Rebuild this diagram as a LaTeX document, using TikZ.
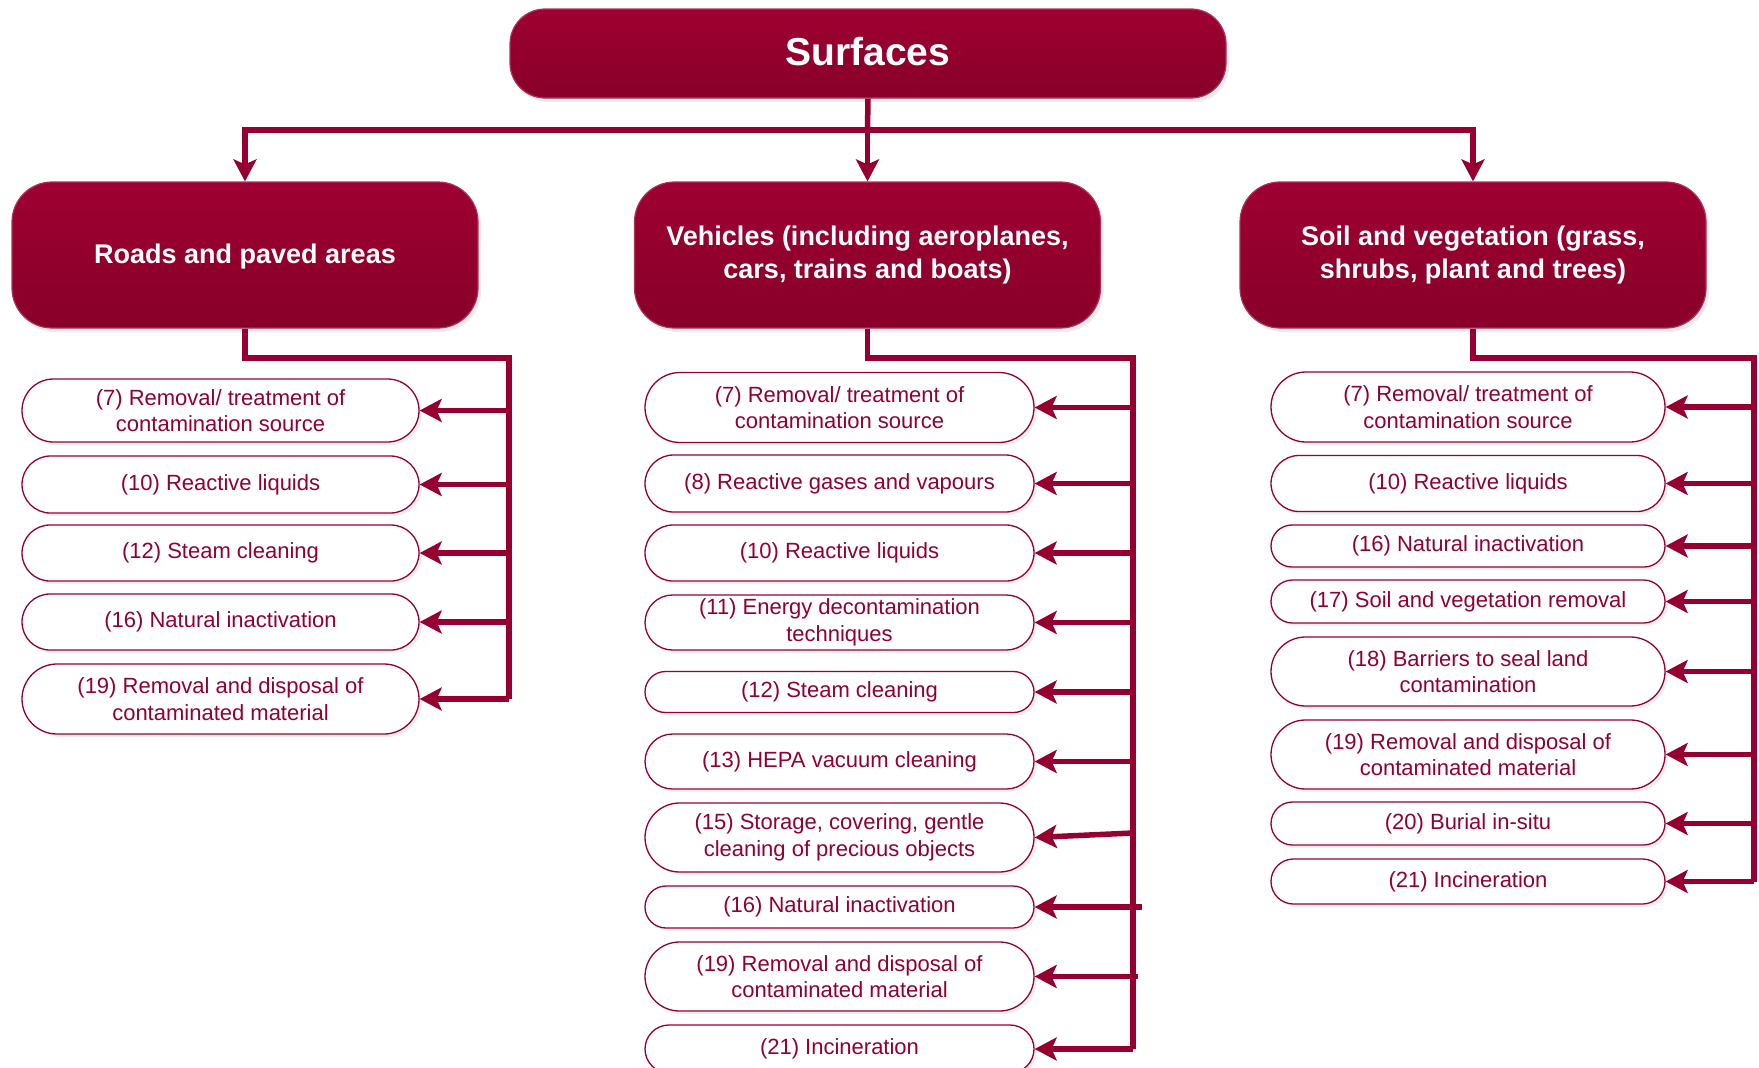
\documentclass[tikz,border=0pt]{standalone}
\usepackage{fontspec}
\setmainfont{Liberation Sans}
\usetikzlibrary{arrows.meta,shapes.misc,shadows}
\definecolor{crim}{RGB}{150,0,48}
\definecolor{crimtop}{RGB}{158,0,50}
\definecolor{crimbot}{RGB}{136,0,42}
\definecolor{crimtext}{RGB}{145,0,50}
\tikzset{
  hdr/.style={draw=crim!80!white, line width=1.2pt, top color=crimtop, bottom color=crimbot,
    text=white, align=center, inner sep=0pt,
    drop shadow={shadow xshift=3pt, shadow yshift=-4pt, fill=black!15}},
  hdrbox/.style={hdr, rounded corners=40pt, minimum width=466pt, minimum height=146pt,
    font=\bfseries\fontsize{27}{32.5}\selectfont},
  itembox/.style={rounded rectangle, draw=crim, line width=1.3pt, fill=white, text=crimtext,
    font=\fontsize{22}{26.5}\selectfont, align=center, inner sep=0pt,
    drop shadow={shadow xshift=3pt, shadow yshift=-3pt, fill=black!12}},
  lcol/.style={itembox, minimum width=397pt},
  mcol/.style={itembox, minimum width=389pt},
  rcol/.style={itembox, minimum width=394pt},
  conn/.style={draw=crim, line width=5.5pt},
  arr/.style={conn, -{Stealth[length=22pt,width=23pt,inset=5pt]}},
}
\begin{document}
\begin{tikzpicture}[x=1pt,y=-1pt]
\useasboundingbox (0,0) rectangle (1759,1068);

% top and header boxes
\node[hdr, rounded corners=35pt, minimum width=716pt, minimum height=89pt,
  font=\bfseries\fontsize{39}{44}\selectfont] (surf) at (868,53.5) {\raisebox{2pt}[\height][\depth]{Surfaces}};
\node[hdrbox] (roads) at (245,255) {\raisebox{-2pt}[\height][\depth]{Roads and paved areas}};
\node[hdrbox] (veh) at (867.5,255) {Vehicles (including aeroplanes,\\cars, trains and boats)};
\node[hdrbox] (soil) at (1473,255) {Soil and vegetation (grass,\\shrubs, plant and trees)};

\coordinate (branch) at (867.5,130);
\draw[conn] (surf.south) -- (branch);
\draw[arr] (branch) -| (roads.north);
\draw[arr] (branch) -- (veh.north);
\draw[arr] (branch) -| (soil.north);

% left column
\node[lcol, minimum height=63pt] (L1) at (220.5,410.5) {(7) Removal/ treatment of\\contamination source};
\node[lcol, minimum height=57pt] (L2) at (220.5,484.5) {(10) Reactive liquids};
\node[lcol, minimum height=56pt] (L3) at (220.5,553) {(12) Steam cleaning};
\node[lcol, minimum height=56pt] (L4) at (220.5,622) {(16) Natural inactivation};
\node[lcol, minimum height=70pt] (L5) at (220.5,699) {(19) Removal and disposal of\\contaminated material};

\coordinate (bL) at (509,358);
\coordinate (bLend) at (509,699);
\draw[conn] (roads.south) |- (bL) -- (bLend);
\foreach \n in {L1,L2,L3,L4,L5}
  \draw[arr] (bL |- \n.east) -- (\n.east);

% middle column
\node[mcol, minimum height=70pt] (M1) at (839.5,407.5) {(7) Removal/ treatment of\\contamination source};
\node[mcol, minimum height=57pt] (M2) at (839.5,483.5) {(8) Reactive gases and vapours};
\node[mcol, minimum height=56pt] (M3) at (839.5,553) {(10) Reactive liquids};
\node[mcol, minimum height=55pt] (M4) at (839.5,622.5) {(11) Energy decontamination\\techniques};
\node[mcol, minimum height=41pt] (M5) at (839.5,692) {(12) Steam cleaning};
\node[mcol, minimum height=55pt] (M6) at (839.5,761.5) {(13) HEPA vacuum cleaning};
\node[mcol, minimum height=69pt] (M7) at (839.5,837.5) {(15) Storage, covering, gentle\\cleaning of precious objects};
\node[mcol, minimum height=42pt] (M8) at (839.5,907) {(16) Natural inactivation};
\node[mcol, minimum height=69pt] (M9) at (839.5,976.5) {(19) Removal and disposal of\\contaminated material};
\node[mcol, minimum height=48pt] (M10) at (839.5,1049) {(21) Incineration};

\coordinate (bM) at (1133,358);
\coordinate (bMend) at (1133,1049);
\draw[conn] (veh.south) |- (bM) -- (bMend);
\foreach \n in {M1,M2,M3,M4,M5,M6,M10}
  \draw[arr] (bM |- \n.east) -- (\n.east);
\coordinate (m7s) at (1133,833);
\draw[arr] (m7s) -- (M7.east);
\coordinate (m8s) at (1142,907);
\draw[arr] (m8s) -- (M8.east);
\coordinate (m9s) at (1138,976.5);
\draw[arr] (m9s) -- (M9.east);

% right column
\node[rcol, minimum height=70pt] (R1) at (1468,407) {(7) Removal/ treatment of\\contamination source};
\node[rcol, minimum height=56pt] (R2) at (1468,483.5) {(10) Reactive liquids};
\node[rcol, minimum height=42pt] (R3) at (1468,546) {(16) Natural inactivation};
\node[rcol, minimum height=43pt] (R4) at (1468,601.5) {(17) Soil and vegetation removal};
\node[rcol, minimum height=69pt] (R5) at (1468,671.5) {(18) Barriers to seal land\\contamination};
\node[rcol, minimum height=69pt] (R6) at (1468,754.5) {(19) Removal and disposal of\\contaminated material};
\node[rcol, minimum height=43pt] (R7) at (1468,823.5) {(20) Burial in-situ};
\node[rcol, minimum height=45pt] (R8) at (1468,881.5) {(21) Incineration};

\coordinate (bR) at (1754,358);
\coordinate (bRend) at (1754,881.5);
\draw[conn] (soil.south) |- (bR) -- (bRend);
\foreach \n in {R1,R2,R3,R4,R5,R6,R7,R8}
  \draw[arr] (bR |- \n.east) -- (\n.east);
\end{tikzpicture}
\end{document}
